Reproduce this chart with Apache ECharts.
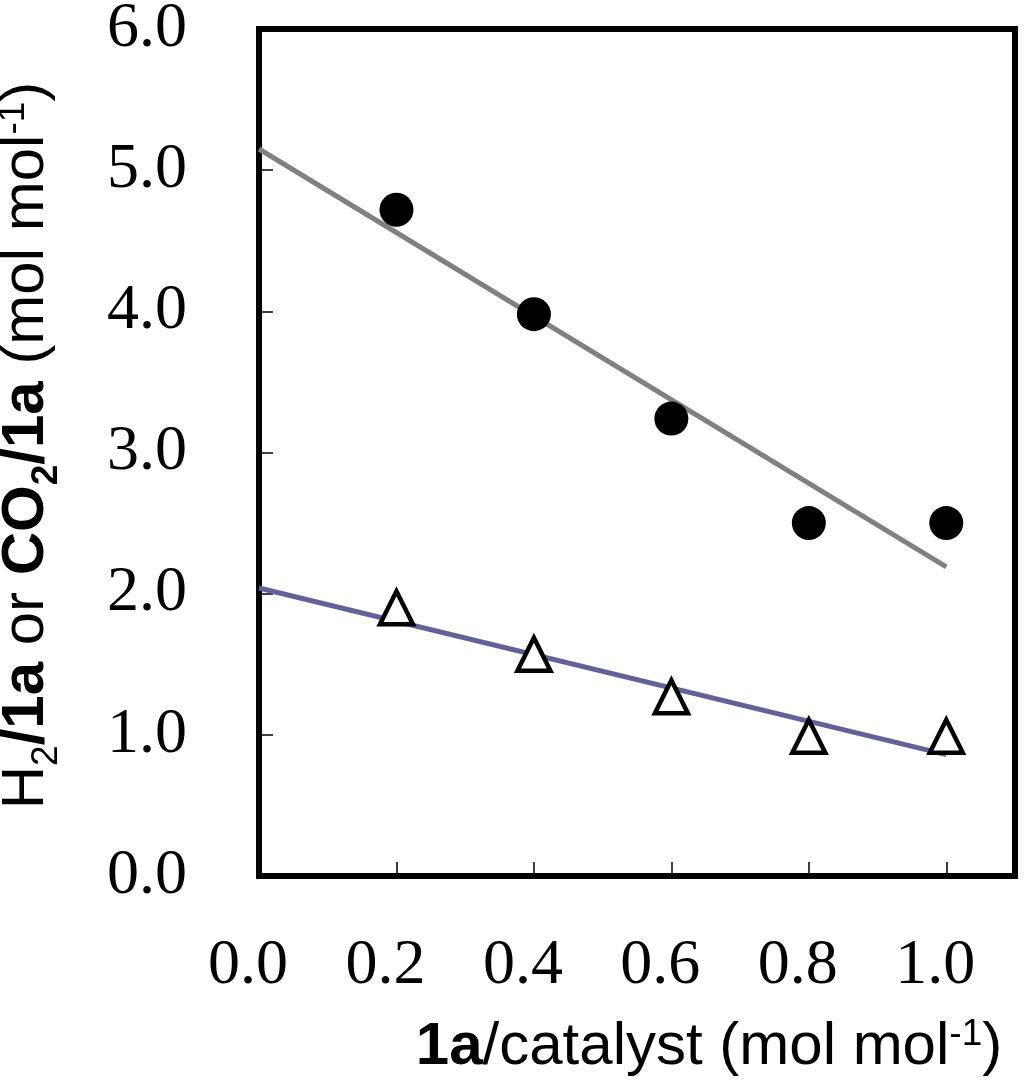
<!DOCTYPE html>
<html>
<head>
<meta charset="utf-8">
<script src="https://cdn.jsdelivr.net/npm/echarts@6/dist/echarts.min.js"></script>
<style>
  html, body { margin: 0; padding: 0; background: #fff; }
  #main { width: 1024px; height: 1083px; }
</style>
</head>
<body>
<div id="main"></div>
<script>
var xValues = [0.2, 0.4, 0.6, 0.8, 1.0];
var h2Values = [4.72, 3.98, 3.24, 2.50, 2.50];
var co2Values = [1.90, 1.57, 1.27, 0.99, 0.99];
// fitted lines, end points
var h2Fit = [[0, 5.15], [1.0, 2.19]];
var co2Fit = [[0, 2.04], [1.0, 0.86]];

var serif = '"Liberation Serif", "Times New Roman", serif';
var sans = '"Liberation Sans", Arial, sans-serif';

var chartDom = document.getElementById('main');
var myChart = echarts.init(chartDom);

function pairs(xs, ys) {
  return xs.map(function (x, i) { return [x, ys[i]]; });
}

var titleRich = {
  n: { fontFamily: sans, fontSize: 60, lineHeight: 66, color: '#000' },
  b: { fontFamily: sans, fontSize: 60, lineHeight: 66, fontWeight: 'bold', color: '#000' },
  sub: { fontFamily: sans, fontSize: 37, lineHeight: 66, verticalAlign: 'bottom', padding: [0, 0, -6, 0], color: '#000' },
  bsub: { fontFamily: sans, fontSize: 37, lineHeight: 66, fontWeight: 'bold', verticalAlign: 'bottom', padding: [0, 0, -6, 0], color: '#000' },
  sup: { fontFamily: sans, fontSize: 37, lineHeight: 66, verticalAlign: 'top', padding: [2, 0, 0, 0], color: '#000' }
};

var option = {
  backgroundColor: '#fff',
  animation: false,
  grid: {
    left: 259,
    top: 29,
    right: 9,
    bottom: 207,
    show: true,
    borderColor: '#000',
    borderWidth: 6,
    containLabel: false,
    outerBoundsMode: 'none'
  },
  xAxis: {
    type: 'value',
    min: 0,
    max: 1.1,
    interval: 0.2,
    splitLine: { show: false },
    axisLine: { show: false },
    axisTick: { show: true, inside: true, length: 14, lineStyle: { color: '#000', width: 1.5 } },
    axisLabel: {
      fontFamily: serif,
      fontSize: 64,
      color: '#000',
      margin: 58,
      padding: [0, 22, 0, 0],
      showMaxLabel: false,
      formatter: function (v) { return v.toFixed(1); }
    },
    name: '{b|1a}{n|/catalyst (mol mol}{sup|-1}{n|)}',
    nameLocation: 'middle',
    nameGap: 138,
    nameTextStyle: { rich: titleRich, padding: [0, 0, 0, 144] }
  },
  yAxis: {
    type: 'value',
    min: 0,
    max: 6,
    interval: 1,
    splitLine: { show: false },
    axisLine: { show: false },
    axisTick: { show: true, inside: true, length: 14, lineStyle: { color: '#000', width: 1.5 } },
    axisLabel: {
      fontFamily: serif,
      fontSize: 64,
      color: '#000',
      margin: 72,
      formatter: function (v) { return v.toFixed(1); }
    },
    name: '{n|H}{sub|2}{b|/1a}{n| or }{b|CO}{bsub|2}{b|/1a}{n| (mol mol}{sup|-1}{n|)}',
    nameLocation: 'middle',
    nameRotate: 90,
    nameGap: 200,
    nameTextStyle: { rich: titleRich, padding: [0, 0, 0, 14] }
  },
  series: [
    {
      type: 'line',
      data: h2Fit,
      symbol: 'none',
      lineStyle: { color: '#808080', width: 5 },
      z: 1
    },
    {
      type: 'line',
      data: co2Fit,
      symbol: 'none',
      lineStyle: { color: '#62629a', width: 5 },
      z: 1
    },
    {
      type: 'scatter',
      data: pairs(xValues, h2Values),
      symbol: 'circle',
      symbolSize: 34,
      itemStyle: { color: '#000', opacity: 1 },
      z: 2
    },
    {
      type: 'scatter',
      data: pairs(xValues, co2Values),
      symbol: 'triangle',
      symbolSize: 33,
      itemStyle: { color: '#fff', borderColor: '#000', borderWidth: 4.5, opacity: 1 },
      z: 2
    }
  ]
};

option && myChart.setOption(option);
</script>
</body>
</html>
